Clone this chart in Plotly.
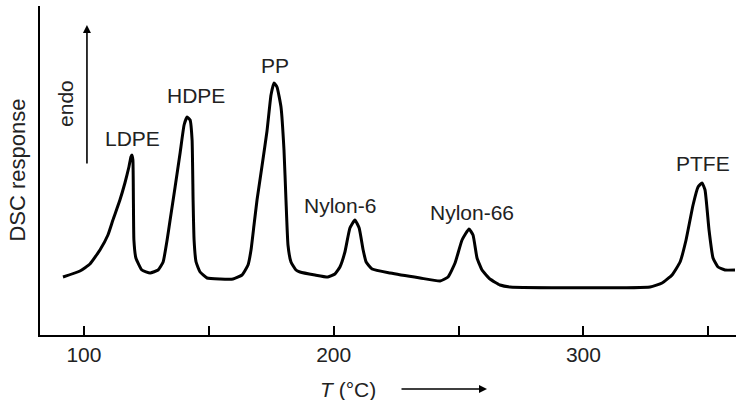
import plotly.graph_objects as go

# DSC trace: temperature (°C) and response (arbitrary units)
temp = [91.6, 98.4, 102.4, 106.4, 109.6, 111.6, 114.4, 116.4, 118.0, 118.8, 119.2, 119.6,
        119.8, 120.0, 120.8, 123.2, 126.5, 129.7, 131.7, 133.3, 134.5, 136.5, 138.5, 140.1,
        141.3, 142.5, 143.3, 143.7, 144.1, 144.9, 146.5, 149.3, 154.5, 159.7, 163.3, 165.7,
        166.9, 168.1, 169.3, 171.3, 173.3, 174.9, 176.1, 177.3, 178.9, 180.1, 180.9, 181.7,
        182.9, 184.9, 186.5, 192.5, 197.7, 200.5, 202.5, 204.5, 206.5, 208.5, 210.2, 211.8,
        213.0, 215.4, 222.6, 234.6, 242.6, 245.8, 248.6, 251.4, 254.2, 255.8, 257.4, 259.4,
        262.6, 266.6, 270.6, 326.7, 331.5, 335.5, 338.7, 341.1, 343.9, 345.9, 347.5, 348.7,
        350.3, 351.9, 353.9, 356.7, 360.7]
response = [58, 64, 71, 85, 100, 115, 135, 152, 168, 178, 180, 175,
            135, 95, 77, 65, 62, 65, 73, 95, 115, 148, 182, 210,
            218, 215, 195, 135, 95, 73, 63, 57, 56, 56, 60, 70,
            85, 110, 135, 169, 204, 240, 252, 248, 228, 185, 135, 90,
            73, 65, 63, 60, 58, 61, 68, 83, 107, 115, 107, 85,
            73, 66, 62, 57, 54, 58, 72, 95, 106, 100, 77, 65,
            56, 50, 48, 48, 52, 60, 73, 95, 130, 148, 152, 145,
            105, 77, 68, 65, 65]

# peak labels
peak_names = ["LDPE", "HDPE", "PP", "Nylon-6", "Nylon-66", "PTFE"]
peak_temp = [119.6, 144.7, 176.6, 202.7, 255.4, 347.9]
peak_label_y = [197, 240, 270, 130, 123, 172]

tick_vals = [100, 150, 200, 250, 300, 350]
tick_text = ["100", "", "200", "", "300", ""]

font = dict(family="Liberation Sans, Arial, sans-serif", size=21, color="#222")

fig = go.Figure()
fig.add_trace(go.Scatter(x=temp, y=response, mode="lines",
                         line=dict(color="black", width=3, shape="spline", smoothing=0.4),
                         hoverinfo="skip"))

for name, t, y in zip(peak_names, peak_temp, peak_label_y):
    fig.add_annotation(x=t, y=y, text=name, showarrow=False, font=font)

# endo arrow
fig.add_annotation(x=101.2, y=310, ax=101.2, ay=170, axref="x", ayref="y",
                   text="", showarrow=True, arrowhead=2, arrowsize=1,
                   arrowwidth=1.6, arrowcolor="black")
fig.add_annotation(x=92.4, y=232, text="endo", textangle=-90, showarrow=False, font=font)

# axis titles
fig.add_annotation(x=-0.033, y=0.5, xref="paper", yref="paper", xanchor="center",
                   yanchor="middle", text="DSC response", textangle=-90,
                   showarrow=False, font=dict(font, size=22))
fig.add_annotation(x=(348 - 40) / 696, y=(335 - 389) / 329, xref="paper", yref="paper",
                   xanchor="center", yanchor="middle",
                   text="<i>T</i> (°C)", showarrow=False, font=font)
fig.add_annotation(x=(487 - 40) / 696, y=(335 - 389) / 329, xref="paper", yref="paper",
                   ax=-87, ay=0, text="", showarrow=True, arrowhead=2, arrowsize=1,
                   arrowwidth=1.6, arrowcolor="black")

fig.update_xaxes(range=[82.4, 361.1], showline=True, linecolor="black", linewidth=2,
                 ticks="inside", ticklen=9, tickwidth=1.5, tickcolor="black",
                 tickvals=tick_vals, ticktext=tick_text, tickfont=font,
                 showgrid=False, zeroline=False)
fig.update_yaxes(range=[0, 329], showline=True, linecolor="black", linewidth=2,
                 showticklabels=False, ticks="", showgrid=False, zeroline=False)

fig.update_layout(width=736, height=400, margin=dict(l=40, r=0, t=6, b=65),
                  plot_bgcolor="white", paper_bgcolor="white", showlegend=False)

# drop the default page margin so the figure sits at the window's corner
fig.write_html("out.html", config={"displayModeBar": False},
               post_script="document.body.style.margin='0';")
